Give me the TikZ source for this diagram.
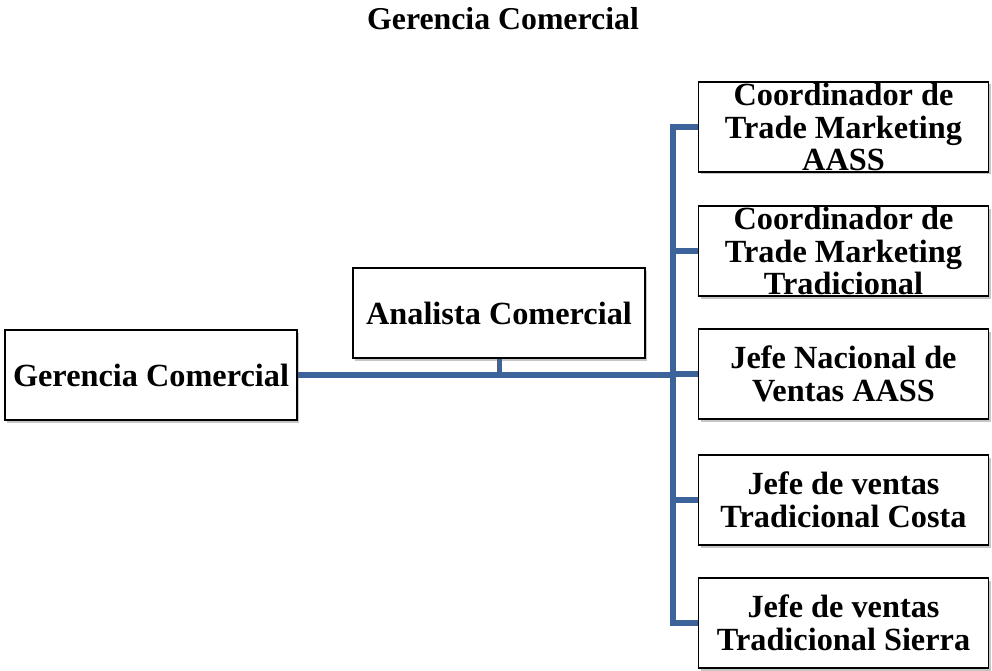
\documentclass[tikz,border=0pt]{standalone}
\usepackage{fontspec}
\setmainfont{Liberation Serif}
\usetikzlibrary{shadows}
\definecolor{linkblue}{RGB}{60,100,155}
\tikzset{
  orgbox/.style={draw=black, line width=1.4pt, fill=white, rectangle,
    inner sep=0pt, minimum width=#1, minimum height=90pt,
    drop shadow={opacity=0.45, fill=gray, shadow xshift=2pt, shadow yshift=-2.5pt}},
  orgbox/.default=290pt,
  orgtext/.style={font=\bfseries\fontsize{32.3}{32.5}\selectfont, align=center, inner sep=0pt},
  headtext/.style={font=\bfseries\fontsize{31.8}{33}\selectfont, inner sep=0pt},
  trunk/.style={draw=linkblue, line width=6pt},
  stub/.style={draw=linkblue, line width=5pt}
}
\begin{document}
\begin{tikzpicture}[x=1pt, y=-1pt]
  \useasboundingbox (0,0) rectangle (992,671);

  % heading
  \node[headtext] (title) at (503,19) {Gerencia Comercial};

  % boxes
  \node[orgbox=292pt] (gc) at (151,375) {};
  \node[orgbox=292pt] (an) at (499,313) {};
  \node[orgbox] (r1) at (843.5,127) {};
  \node[orgbox] (r2) at (843.5,251) {};
  \node[orgbox] (r3) at (843.5,374) {};
  \node[orgbox] (r4) at (843.5,500) {};
  \node[orgbox] (r5) at (843.5,623) {};

  % junction points on the vertical bus
  \coordinate (bus) at (673,375);
  \coordinate (bt) at (673,127);
  \coordinate (bb) at (673,623);
  \coordinate (aj) at (499,375);

  % connectors
  \draw[stub] (an.south) -- (aj);
  \draw[trunk] (gc.east) -- (bus);
  \draw[trunk, line cap=rect] (bt) -- (bb);
  \foreach \r in {r1,r2,r3,r4,r5}
    \draw[trunk] (bus |- \r.west) -- (\r.west);

  % box labels
  \node[orgtext] (gct) at (gc) {Gerencia Comercial};
  \node[orgtext] (ant) at (an) {Analista Comercial};
  \node[orgtext] (r1t) at (r1) {Coordinador de\\Trade Marketing\\AASS};
  \node[orgtext] (r2t) at (r2) {Coordinador de\\Trade Marketing\\Tradicional};
  \node[orgtext] (r3t) at (r3) {Jefe Nacional de\\Ventas AASS};
  \node[orgtext] (r4t) at (r4) {Jefe de ventas\\Tradicional Costa};
  \node[orgtext] (r5t) at (r5) {Jefe de ventas\\Tradicional Sierra};
\end{tikzpicture}
\end{document}
